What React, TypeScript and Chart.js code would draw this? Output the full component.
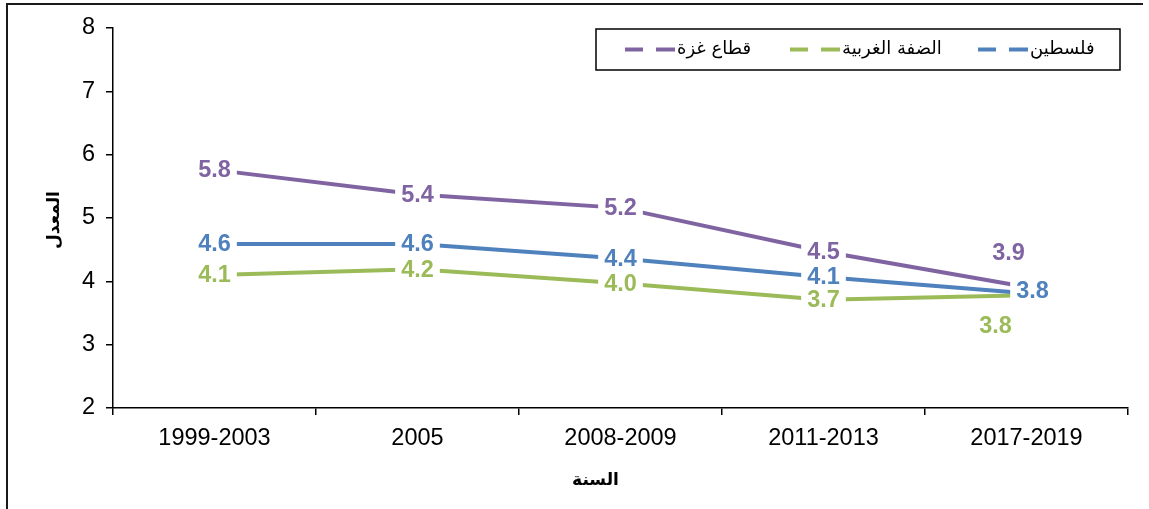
import React, { useEffect, useRef } from "react";
import { Chart, registerables } from "chart.js";

Chart.register(...registerables);

// ---- data ----
const categories = ["1999-2003", "2005", "2008-2009", "2011-2013", "2017-2019"];
const seriesNames = ["فلسطين", "الضفة الغربية", "قطاع غزة"];
const palestine = [4.59, 4.59, 4.36, 4.07, 3.81];
const westBank = [4.1, 4.19, 3.97, 3.71, 3.78];
const gaza = [5.76, 5.37, 5.16, 4.47, 3.91];
const yMin = 2;
const yMax = 8;
const yStep = 1;
const yTitle = "المعدل";
const xTitle = "السنة";

// ---- styles ----
const colors = ["#4F81BD", "#9BBB59", "#8064A2"];
const labelOffsets = [
  [[0, 0], [0, 0], [0, 0], [0, 0], [6, -3]],
  [[0, 0], [0, 0], [0, 0], [0, 0], [-31, 30]],
  [[0, 0], [0, 0], [0, 0], [0, 0], [-18, -35]],
];
const FONT = "'Liberation Sans', Arial, 'DejaVu Sans', sans-serif";
const AR_FONT = "'DejaVu Sans', 'Liberation Sans', sans-serif";

const framePlugin = {
  id: "frame",
  beforeDraw(chart: any) {
    const ctx = chart.ctx;
    ctx.save();
    ctx.strokeStyle = "#1a1a1a";
    ctx.lineWidth = 2;
    ctx.beginPath();
    ctx.moveTo(7, 509);
    ctx.lineTo(7, 4);
    ctx.lineTo(1143, 4);
    ctx.stroke();
    ctx.restore();
  },
};

const labelsPlugin = {
  id: "valueLabels",
  afterDatasetsDraw(chart: any) {
    const ctx = chart.ctx;
    ctx.save();
    ctx.font = `bold 23.5px ${FONT}`;
    ctx.textAlign = "center";
    ctx.textBaseline = "middle";
    chart.data.datasets.forEach((ds: any, di: number) => {
      const meta = chart.getDatasetMeta(di);
      meta.data.forEach((pt: any, i: number) => {
        const txt = Number(ds.data[i]).toFixed(1);
        const [dx, dy] = labelOffsets[di][i];
        const x = pt.x + dx;
        const y = pt.y + dy;
        const w = ctx.measureText(txt).width + 12;
        const h = 26;
        ctx.fillStyle = "#ffffff";
        ctx.fillRect(x - w / 2, y - h / 2, w, h);
        ctx.fillStyle = ds.borderColor;
        ctx.fillText(txt, x, y + 1);
      });
    });
    ctx.restore();
  },
};

const titlesLegendPlugin = {
  id: "titlesLegend",
  afterDraw(chart: any) {
    const ctx = chart.ctx;
    const area = chart.chartArea;
    ctx.save();
    // axis titles
    ctx.fillStyle = "#000";
    ctx.font = `bold 17px ${AR_FONT}`;
    ctx.textAlign = "center";
    ctx.textBaseline = "middle";
    ctx.fillText(xTitle, (area.left + area.right) / 2 - 25, 481);
    ctx.save();
    ctx.translate(55, (area.top + area.bottom) / 2 + 2);
    ctx.rotate(-Math.PI / 2);
    ctx.fillText(yTitle, 0, 0);
    ctx.restore();

    // legend box
    const bx = 596, by = 29, bw = 524, bh = 41;
    ctx.strokeStyle = "#000";
    ctx.lineWidth = 1.5;
    ctx.strokeRect(bx, by, bw, bh);
    const cy = by + bh / 2;
    const order = [2, 1, 0];
    const markerStarts = [29, 194, 382];
    ctx.font = `18px ${AR_FONT}`;
    ctx.textAlign = "left";
    order.forEach((di, k) => {
      const ds = chart.data.datasets[di];
      const mx = bx + markerStarts[k];
      ctx.strokeStyle = ds.borderColor;
      ctx.lineWidth = 4;
      ctx.beginPath();
      ctx.moveTo(mx, cy);
      ctx.lineTo(mx + 18, cy);
      ctx.moveTo(mx + 31, cy);
      ctx.lineTo(mx + 50, cy);
      ctx.stroke();
      ctx.fillStyle = "#000";
      ctx.fillText(ds.label, mx + 52, cy);
    });
    ctx.restore();
  },
};

export default function App() {
  const ref = useRef<HTMLCanvasElement | null>(null);
  useEffect(() => {
    document.body.style.margin = "0";
    const canvas = ref.current;
    if (!canvas) return;
    const chart = new Chart(canvas, {
      type: "line",
      data: {
        labels: categories,
        datasets: [palestine, westBank, gaza].map((d, i) => ({
          label: seriesNames[i],
          data: d,
          borderColor: colors[i],
          backgroundColor: colors[i],
          borderWidth: 4,
          pointRadius: 0,
          tension: 0,
          fill: false,
        })),
      },
      options: {
        animation: false,
        responsive: false,
        devicePixelRatio: 1,
        layout: { padding: { top: 28, right: 21, left: 0, bottom: 0 } },
        plugins: {
          legend: { display: false },
          tooltip: { enabled: false },
        },
        scales: {
          x: {
            offset: true,
            grid: {
              offset: true,
              drawOnChartArea: false,
              drawTicks: true,
              tickLength: 7,
              color: "#000",
              lineWidth: 1.5,
            },
            border: { display: true, color: "#000", width: 1.5 },
            ticks: {
              color: "#000",
              padding: 9,
              font: { family: FONT, size: 23.5 },
              maxRotation: 0,
            },
            afterFit(scale: any) {
              scale.height = 101;
            },
          },
          y: {
            min: yMin,
            max: yMax,
            grid: {
              drawOnChartArea: false,
              drawTicks: true,
              tickLength: 7,
              color: "#000",
              lineWidth: 1.5,
            },
            border: { display: true, color: "#000", width: 1.5 },
            ticks: {
              stepSize: yStep,
              color: "#000",
              padding: 11,
              font: { family: FONT, size: 23.5 },
            },
            afterFit(scale: any) {
              scale.width = 113;
            },
          },
        },
      },
      plugins: [framePlugin, labelsPlugin, titlesLegendPlugin],
    });
    return () => chart.destroy();
  }, []);
  return (
    <div style={{ width: 1149, height: 509, background: "#fff" }}>
      <canvas ref={ref} width={1149} height={509} style={{ display: "block" }} />
    </div>
  );
}
